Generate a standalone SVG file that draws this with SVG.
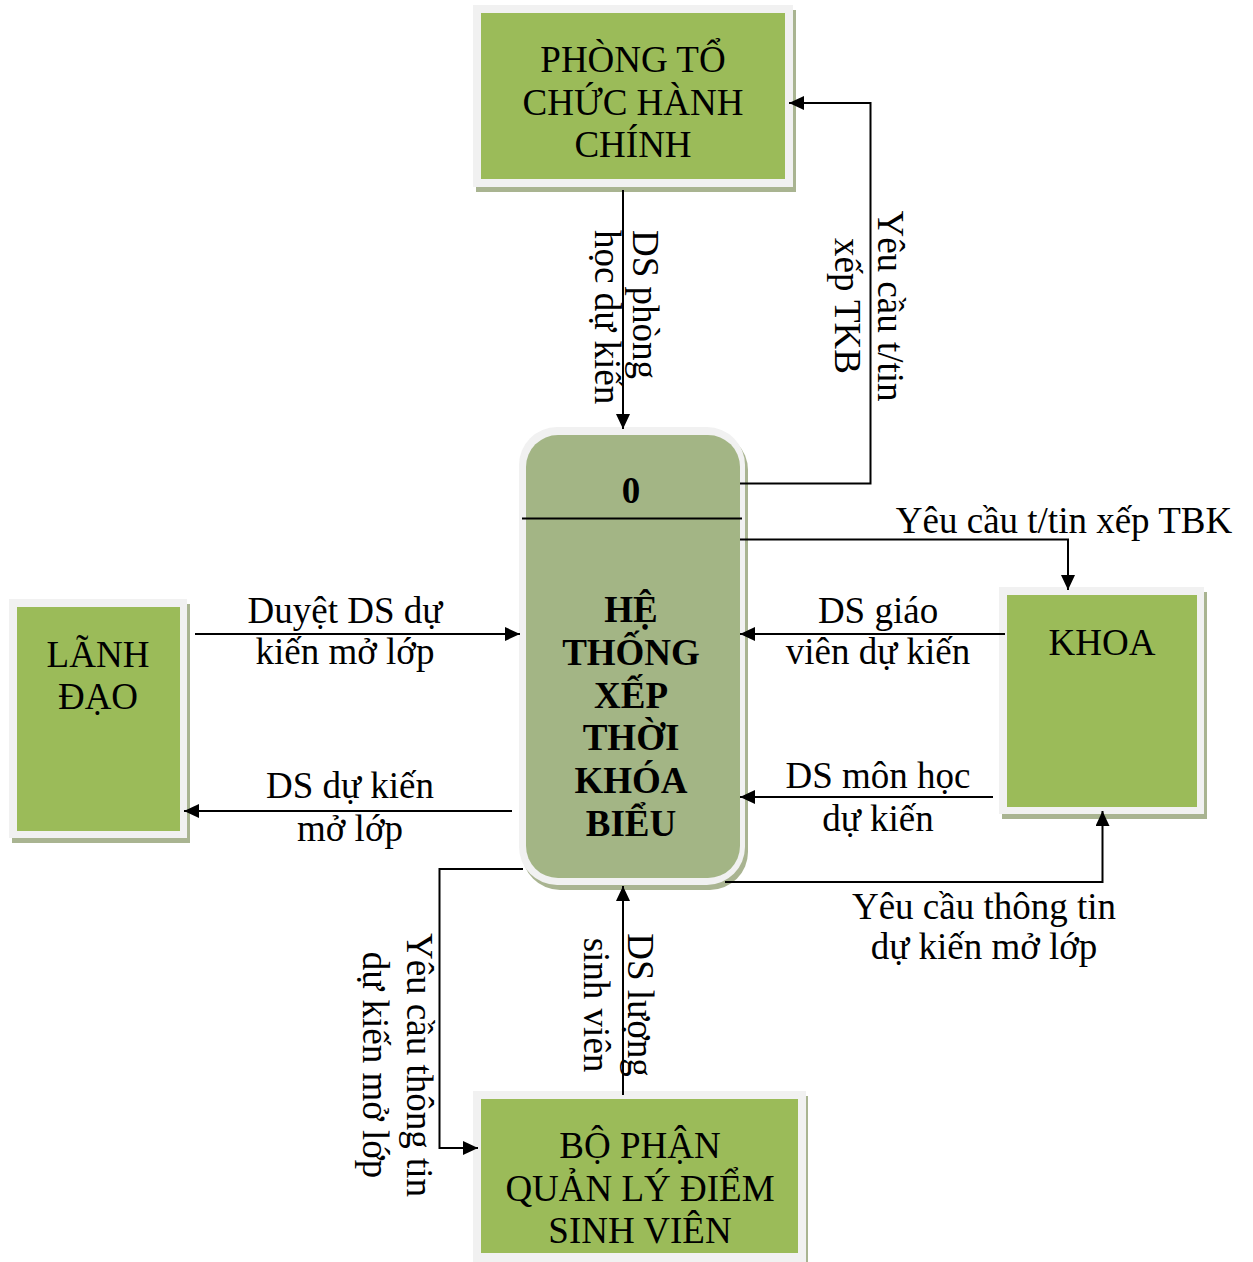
<svg xmlns="http://www.w3.org/2000/svg" width="1253" height="1262" viewBox="0 0 1253 1262">
<style>
.sh{fill:#a9b491}
.fr{fill:#f1f1f1}
.gr{fill:#9bbb59}
.gc{fill:#a3b585}
text{font-family:"Liberation Serif","Times New Roman",serif;font-size:37px;fill:#000}
.c{text-anchor:middle}
.b{font-weight:bold}
.ln{fill:none;stroke:#000;stroke-width:2}
</style>
<defs>
<marker id="ah" markerUnits="userSpaceOnUse" markerWidth="15" markerHeight="14" refX="15" refY="7" orient="auto">
<path d="M0,0 L15,7 L0,14 z" fill="#000"/>
</marker>
</defs>
<rect width="1253" height="1262" fill="#fff"/>

<g id="phong">
<rect class="sh" x="476" y="10" width="320" height="182"/>
<rect class="fr" x="473" y="5" width="320" height="182"/>
<rect class="gr" x="481" y="13" width="304" height="166"/>
<text class="c" x="633" y="72">PHÒNG TỔ</text>
<text class="c" x="633" y="115">CHỨC HÀNH</text>
<text class="c" x="633" y="157">CHÍNH</text>
</g>

<g id="system">
<rect class="sh" x="522" y="432" width="226" height="458" rx="38"/>
<rect class="fr" x="519" y="427" width="226" height="458" rx="38"/>
<rect class="gc" x="526" y="435" width="214" height="443" rx="32"/>
<line class="ln" x1="522" y1="518.5" x2="742" y2="518.5"/>
<text class="c b" x="631" y="503">0</text>
<text class="c b" x="631" y="622">HỆ</text>
<text class="c b" x="631" y="665">THỐNG</text>
<text class="c b" x="631" y="708">XẾP</text>
<text class="c b" x="631" y="750">THỜI</text>
<text class="c b" x="631" y="793">KHÓA</text>
<text class="c b" x="631" y="836">BIỂU</text>
</g>

<g id="lanhdao">
<rect class="sh" x="12" y="604" width="178" height="239"/>
<rect class="fr" x="9" y="599" width="178" height="239"/>
<rect class="gr" x="17" y="607" width="163" height="224"/>
<text class="c" x="98" y="667">LÃNH</text>
<text class="c" x="98" y="709">ĐẠO</text>
</g>

<g id="khoa">
<rect class="sh" x="1002" y="592" width="205" height="227"/>
<rect class="fr" x="999" y="587" width="205" height="227"/>
<rect class="gr" x="1007" y="595" width="190" height="212"/>
<text class="c" x="1102" y="655">KHOA</text>
</g>

<g id="bophan">
<rect class="sh" x="476" y="1096" width="332" height="170"/>
<rect class="fr" x="473" y="1091" width="333" height="171"/>
<rect class="gr" x="481" y="1099" width="317" height="154"/>
<text class="c" x="640" y="1158">BỘ PHẬN</text>
<text class="c" x="640" y="1201">QUẢN LÝ ĐIỂM</text>
<text class="c" x="640" y="1243">SINH VIÊN</text>
</g>

<g id="connectors">
<path class="ln" d="M623,190 V429" marker-end="url(#ah)"/>
<path class="ln" d="M740,483.5 H870.5 V103 H789" marker-end="url(#ah)"/>
<path class="ln" d="M740,539.5 H1068 V590" marker-end="url(#ah)"/>
<path class="ln" d="M195,634 H520" marker-end="url(#ah)"/>
<path class="ln" d="M512,811 H184" marker-end="url(#ah)"/>
<path class="ln" d="M1005,634 H740" marker-end="url(#ah)"/>
<path class="ln" d="M993,797 H740" marker-end="url(#ah)"/>
<path class="ln" d="M725,882 H1102.5 V811" marker-end="url(#ah)"/>
<path class="ln" d="M623,1095 V886" marker-end="url(#ah)"/>
<path class="ln" d="M523,869 H439.5 V1148 H478" marker-end="url(#ah)"/>

<text transform="rotate(90 633 230)" x="633" y="230">DS phòng</text>
<text transform="rotate(90 595 230)" x="595" y="230">học dự kiến</text>
<text class="c" transform="rotate(90 878 306)" x="878" y="306">Yêu cầu t/tin</text>
<text class="c" transform="rotate(90 835 306)" x="835" y="306">xếp TKB</text>
<text class="c" x="1064" y="533">Yêu cầu t/tin xếp TBK</text>
<text class="c" x="345" y="623">Duyệt DS dự</text>
<text class="c" x="345" y="664">kiến mở lớp</text>
<text class="c" x="350" y="798">DS dự kiến</text>
<text class="c" x="350" y="841">mở lớp</text>
<text class="c" x="878" y="623">DS giáo</text>
<text class="c" x="878" y="664">viên dự kiến</text>
<text class="c" x="878" y="788">DS môn học</text>
<text class="c" x="878" y="831">dự kiến</text>
<text class="c" x="984" y="919">Yêu cầu thông tin</text>
<text class="c" x="984" y="959">dự kiến mở lớp</text>
<text class="c" transform="rotate(90 628 1005)" x="628" y="1005">DS lượng</text>
<text class="c" transform="rotate(90 584 1005)" x="584" y="1005">sinh viên</text>
<text class="c" transform="rotate(90 407 1065)" x="407" y="1065">Yêu cầu thông tin</text>
<text class="c" transform="rotate(90 363 1065)" x="363" y="1065">dự kiến mở lớp</text>
</g>
</svg>
